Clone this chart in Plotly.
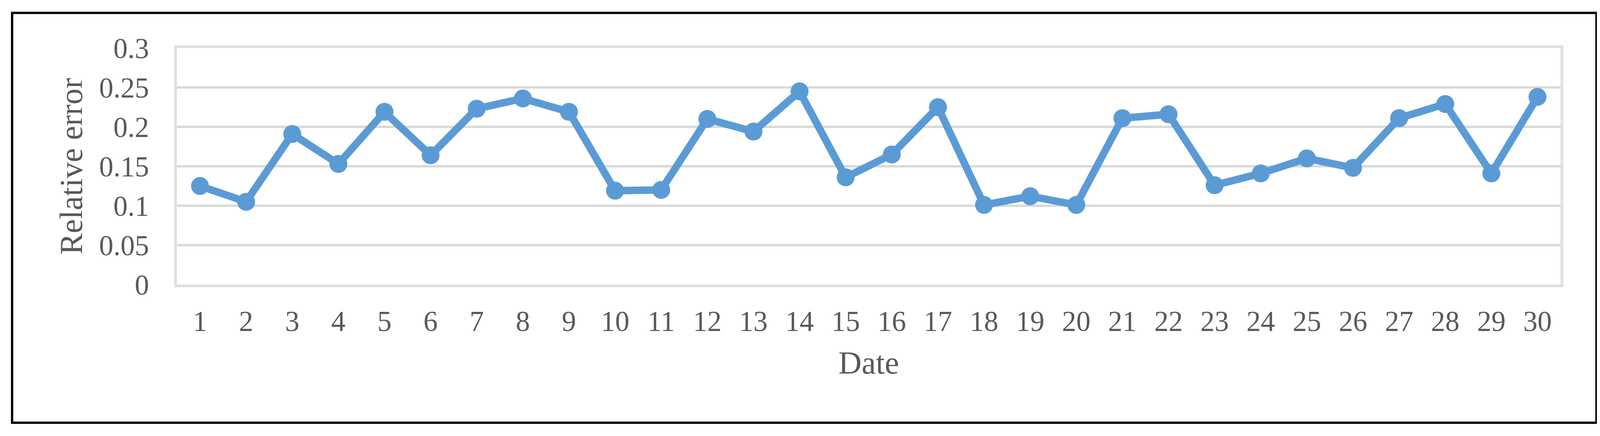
import plotly.graph_objects as go

# relative error per date
dates = [str(d) for d in range(1, 31)]
relative_error = [0.125, 0.105, 0.191, 0.153, 0.219, 0.164, 0.223, 0.236, 0.219, 0.119,
                  0.120, 0.210, 0.194, 0.245, 0.136, 0.165, 0.225, 0.101, 0.112, 0.101,
                  0.211, 0.216, 0.126, 0.141, 0.160, 0.148, 0.211, 0.229, 0.141, 0.238]
y_ticks = [0, 0.05, 0.1, 0.15, 0.2, 0.25, 0.3]
y_tick_labels = ['0', '0.05', '0.1', '0.15', '0.2', '0.25', '0.3']

W, H = 4120, 1117
OFF = 8  # the page body adds an 8px margin around the figure
L, R = 453 - OFF, W - (3995 - OFF)
T, B = 123 - OFF, H - (729 - OFF)
GRID = '#d9d9d9'
FRAME = '#e0e0e0'
TEXT = '#595959'
FONT = 'Liberation Serif, Times New Roman, serif'

line = go.Scatter(
    x=dates,
    y=relative_error,
    mode='lines+markers',
    line=dict(color='#5b9bd5', width=19),
    marker=dict(color='#5b9bd5', size=46),
    showlegend=False
)

fig = go.Figure(data=[line])

pw = W - L - R
ph = H - T - B
# outer black frame around the whole chart
fig.add_shape(
    type='rect', xref='paper', yref='paper',
    x0=(31 - OFF - L) / pw, x1=(4087 - OFF - L) / pw,
    y0=(H - B - (1083 - OFF)) / ph, y1=(H - B - (33 - OFF)) / ph,
    line=dict(color='black', width=6), layer='below'
)

fig.update_layout(
    width=W, height=H,
    margin=dict(l=L, r=R, t=T, b=B),
    paper_bgcolor='white',
    plot_bgcolor='white',
    font=dict(family=FONT, color=TEXT, size=73),
    xaxis=dict(
        type='category',
        title=dict(text='Date', font=dict(size=82, color=TEXT), standoff=40),
        showgrid=False,
        showline=True, linecolor=FRAME, linewidth=7, mirror=True,
        ticks='', ticklabelstandoff=24,
        tickfont=dict(size=73, color=TEXT),
        range=[-0.5, len(dates) - 0.5],
        automargin=False,
    ),
    yaxis=dict(
        title=dict(text='Relative error', font=dict(size=82, color=TEXT), standoff=18),
        range=[0, 0.3],
        tickvals=y_ticks, ticktext=y_tick_labels,
        showgrid=True, gridcolor=GRID, gridwidth=6,
        showline=True, linecolor=FRAME, linewidth=7, mirror=True,
        zeroline=False,
        ticks='', ticklabelstandoff=50,
        tickfont=dict(size=73, color=TEXT),
        automargin=False,
    ),
)

fig.write_html('out.html')
